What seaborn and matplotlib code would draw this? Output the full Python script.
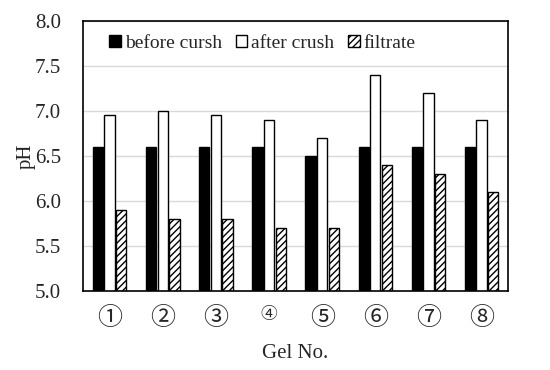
import pandas as pd
import seaborn as sns
import matplotlib.pyplot as plt
from matplotlib.ticker import FixedLocator

# %% Data
gels = ['①', '②', '③', '④', '⑤', '⑥', '⑦', '⑧']
before = [6.6, 6.6, 6.6, 6.6, 6.5, 6.6, 6.6, 6.6]
after = [6.95, 7.0, 6.95, 6.9, 6.7, 7.4, 7.2, 6.9]
filtrate = [5.9, 5.8, 5.8, 5.7, 5.7, 6.4, 6.3, 6.1]
series = ['before cursh', 'after crush', 'filtrate']

df = pd.DataFrame({
    'gel': gels * 3,
    'pH': before + after + filtrate,
    'kind': [series[0]] * 8 + [series[1]] * 8 + [series[2]] * 8,
})

# %% Plot
sns.set_style('white')
plt.rcParams['font.family'] = ['Liberation Serif', 'Noto Sans CJK JP', 'DejaVu Sans']
plt.rcParams['hatch.linewidth'] = 1.0

fig = plt.figure(figsize=(5.5, 3.7), dpi=100)
ax = fig.add_axes([0.151, 0.214, 0.773, 0.729])

sns.barplot(data=df, x='gel', y='pH', hue='kind', hue_order=series,
            palette=['black', 'white', 'white'], width=0.66, gap=0.12,
            edgecolor='black', linewidth=1.0, ax=ax, legend=True)

# hatch the filtrate bars
for bar in ax.containers[2]:
    bar.set_hatch('/////')

ax.set_ylim(5.0, 8.0)
ax.set_xlim(-0.5, 7.5)
ax.set_yticks([5.0, 5.5, 6.0, 6.5, 7.0, 7.5, 8.0])
ax.set_yticklabels(['5.0', '5.5', '6.0', '6.5', '7.0', '7.5', '8.0'])
ax.yaxis.grid(True, color='#d9d9d9', linewidth=1.0)
ax.set_axisbelow(True)

ax.tick_params(axis='y', direction='inout', length=10, width=1.2, labelsize=15, pad=11)
ax.tick_params(axis='x', which='major', length=0, labelsize=18, pad=12)
ax.xaxis.set_minor_locator(FixedLocator([i - 0.5 for i in range(9)]))
ax.tick_params(axis='x', which='minor', direction='inout', length=10, width=1.2)
for lbl in ax.get_xticklabels():
    if lbl.get_text() == '④':
        lbl.set_fontsize(12)

for sp in ax.spines.values():
    sp.set_color('black')
    sp.set_linewidth(1.2)

ax.set_xlabel('Gel No.', fontsize=15, labelpad=10)
ax.set_ylabel('pH', fontsize=15, labelpad=-1)

leg = ax.legend(loc='upper left', ncol=3, frameon=False, fontsize=14,
                handlelength=0.6, handleheight=0.6, handletextpad=0.2,
                columnspacing=0.7, borderaxespad=0.3, bbox_to_anchor=(0.03, 1.0))
for h in leg.legend_handles:
    h.set_edgecolor('black')
leg.legend_handles[2].set_hatch('/////')

plt.savefig('out.png', dpi=100)
